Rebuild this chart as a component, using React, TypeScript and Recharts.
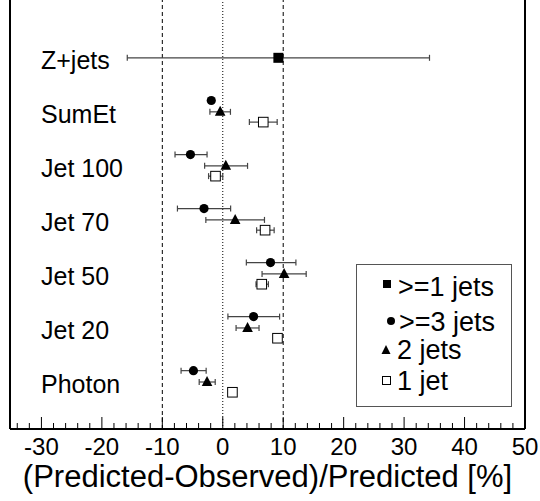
import { ScatterChart, Scatter, XAxis, YAxis, ErrorBar, ReferenceLine, Legend } from 'recharts';

const FONT = '"Liberation Sans", Arial, Helvetica, sans-serif';

// rows from bottom to top
const categories = ['Photon', 'Jet 20', 'Jet 50', 'Jet 70', 'Jet 100', 'SumEt', 'Z+jets'];

// >=1 jets: only Z+jets
const zJetsValue = 9.2;
const zJetsErr = [25, 25];

// Photon, Jet 20, Jet 50, Jet 70, Jet 100, SumEt
const threeJets = [-4.85, 5.1, 7.9, -3.1, -5.35, -1.9];
const threeJetsErr = [[2.05, 2.1], [4.25, 4.3], [4.0, 4.2], [4.4, 4.4], [2.55, 2.75], null];

const twoJets = [-2.6, 4.1, 10.15, 2.05, 0.5, -0.43];
const twoJetsErr = [[1.3, 1.35], [1.9, 1.9], [3.65, 3.65], [4.85, 4.85], [3.5, 3.6], [1.7, 1.7]];

const oneJet = [1.6, 9.05, 6.45, 7.0, -1.2, 6.7];
const oneJetErr = [null, null, [0.95, 1.1], [1.4, 1.5], [1.15, 1.2], [2.3, 2.3]];

const majorTicks = [-30, -20, -10, 0, 10, 20, 30, 40, 50];
const allTicks = [
  -34, -32, -30, -28, -26, -24, -22, -20, -18, -16, -14, -12, -10, -8, -6, -4, -2, 0,
  2, 4, 6, 8, 10, 12, 14, 16, 18, 20, 22, 24, 26, 28, 30, 32, 34, 36, 38, 40, 42, 44, 46, 48, 50,
];

const build = (vals: number[], errs: (number[] | null)[], shift: number) =>
  vals.map((v, i) => ({ x: v, y: i + shift, err: errs[i] ?? undefined }));

const threeJetsData = build(threeJets, threeJetsErr, 0.21);
const twoJetsData = build(twoJets, twoJetsErr, 0);
const oneJetData = build(oneJet, oneJetErr, -0.19);
const zJetsData = [{ x: zJetsValue, y: 6, err: zJetsErr }];

const FilledSquare = (p: any) => <rect x={p.cx - 5} y={p.cy - 5} width={10} height={10} fill="#000" />;
const Dot = (p: any) => <circle cx={p.cx} cy={p.cy} r={4.6} fill="#000" />;
const Tri = (p: any) => (
  <polygon points={`${p.cx},${p.cy - 6} ${p.cx - 5.3},${p.cy + 4} ${p.cx + 5.3},${p.cy + 4}`} fill="#000" />
);
const OpenSquare = (p: any) => (
  <rect x={p.cx - 4.8} y={p.cy - 4.8} width={9.6} height={9.6} fill="#fff" stroke="#000" strokeWidth={1} />
);

const XTick = (p: any) => {
  const v = p.payload.value;
  const major = majorTicks.includes(v);
  return (
    <g>
      <line x1={p.x} x2={p.x} y1={p.y} y2={p.y - (major ? 12 : 6)} stroke="#000" strokeWidth={1} />
      {major && (
        <text x={p.x} y={p.y + 26} textAnchor="middle" fontSize={24} fontFamily={FONT} fill="#000">
          {v}
        </text>
      )}
    </g>
  );
};

const YTick = (p: any) => (
  <text x={p.x + 31} y={p.y + 11} textAnchor="start" fontSize={25} fontFamily={FONT} fill="#000">
    {categories[p.payload.value]}
  </text>
);

const LegendBox = () => (
  <svg width={156} height={143} style={{ display: 'block' }}>
    <rect x={0.5} y={0.5} width={155} height={142} fill="#fff" stroke="#555" strokeWidth={1} />
    <g fontFamily={FONT} fontSize={27} fill="#000">
      <rect x={27} y={16} width={8} height={8} fill="#000" />
      <text x={42} y={32}>&gt;=1 jets</text>
      <circle cx={35} cy={57} r={4} fill="#000" />
      <text x={43} y={67}>&gt;=3 jets</text>
      <polygon points="30,81 25.5,90 34.5,90" fill="#000" />
      <text x={41} y={95}>2 jets</text>
      <rect x={26.5} y={112.5} width={8} height={8} fill="#fff" stroke="#000" />
      <text x={41} y={126}>1 jet</text>
    </g>
  </svg>
);

export default function App() {
  return (
    <div style={{ position: 'absolute', left: 0, top: 0, background: '#fff' }}>
      <ScatterChart width={540} height={501} margin={{ top: 0, right: 15, bottom: 0, left: 0 }}>
        <XAxis
          type="number"
          dataKey="x"
          domain={[-35.2, 50]}
          allowDataOverflow
          ticks={allTicks}
          interval={0}
          height={72}
          tickSize={0}
          tickMargin={0}
          tickLine={false}
          axisLine={{ stroke: '#000', strokeWidth: 2 }}
          tick={XTick}
          label={{
            value: '(Predicted-Observed)/Predicted [%]',
            position: 'insideBottom',
            offset: 14,
            fontSize: 31,
            fontFamily: FONT,
            fill: '#000',
          }}
        />
        <YAxis
          type="number"
          dataKey="y"
          domain={[-0.87, 7.07]}
          allowDataOverflow
          ticks={[0, 1, 2, 3, 4, 5, 6]}
          interval={0}
          width={10}
          tickSize={0}
          tickMargin={0}
          tickLine={false}
          axisLine={{ stroke: '#000', strokeWidth: 2 }}
          tick={YTick}
        />
        <ReferenceLine x={-10} stroke="#000" strokeWidth={1} strokeDasharray="4 3" />
        <ReferenceLine x={10} stroke="#000" strokeWidth={1} strokeDasharray="4 3" />
        <ReferenceLine x={0} stroke="#000" strokeWidth={1} strokeDasharray="1 2" />
        <ReferenceLine x={50} stroke="#000" strokeWidth={2} />
        <Legend
          layout="horizontal"
          verticalAlign="middle"
          align="center"
          content={LegendBox}
          wrapperStyle={{ position: 'absolute', left: 356, top: 264, width: 156, height: 143 }}
        />
        <Scatter name=">=1 jets" data={zJetsData} shape={FilledSquare} isAnimationActive={false}>
          <ErrorBar dataKey="err" direction="x" width={3} stroke="#444" strokeWidth={1.2} />
        </Scatter>
        <Scatter name=">=3 jets" data={threeJetsData} shape={Dot} isAnimationActive={false}>
          <ErrorBar dataKey="err" direction="x" width={3} stroke="#444" strokeWidth={1.2} />
        </Scatter>
        <Scatter name="2 jets" data={twoJetsData} shape={Tri} isAnimationActive={false}>
          <ErrorBar dataKey="err" direction="x" width={3} stroke="#444" strokeWidth={1.2} />
        </Scatter>
        <Scatter name="1 jet" data={oneJetData} shape={OpenSquare} isAnimationActive={false}>
          <ErrorBar dataKey="err" direction="x" width={3} stroke="#444" strokeWidth={1.2} />
        </Scatter>
      </ScatterChart>
    </div>
  );
}
